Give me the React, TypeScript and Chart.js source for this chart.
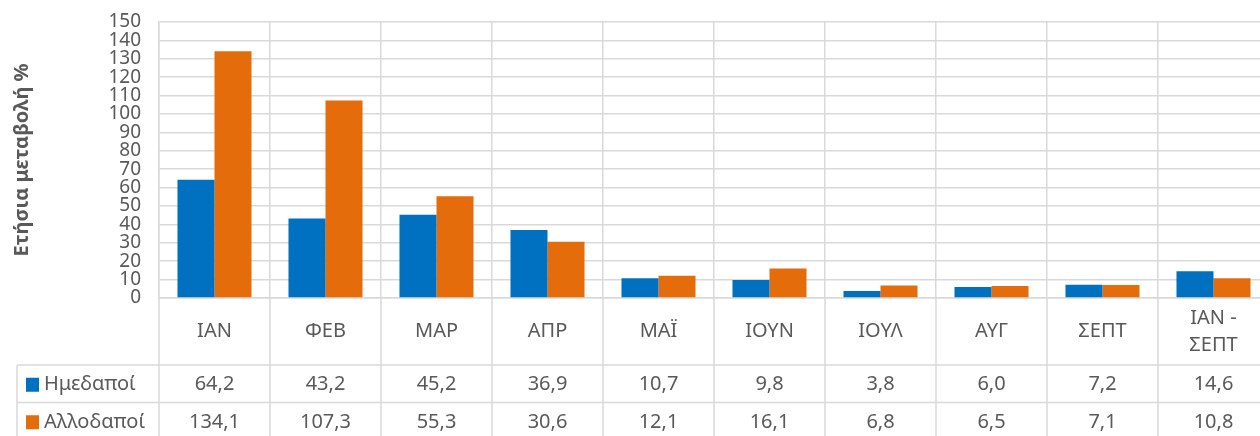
import React, { useEffect, useRef } from "react";
import { Chart, registerables } from "chart.js";

Chart.register(...registerables);

const categories: string[][] = [["ΙΑΝ"], ["ΦΕΒ"], ["ΜΑΡ"], ["ΑΠΡ"], ["ΜΑΪ"], ["ΙΟΥΝ"], ["ΙΟΥΛ"], ["ΑΥΓ"], ["ΣΕΠΤ"], ["ΙΑΝ -", "ΣΕΠΤ"]];
const seriesNames = ["Ημεδαποί", "Αλλοδαποί"];
const domestic = [64.2, 43.2, 45.2, 36.9, 10.7, 9.8, 3.8, 6.0, 7.2, 14.6];
const foreign = [134.1, 107.3, 55.3, 30.6, 12.1, 16.1, 6.8, 6.5, 7.1, 10.8];
const yTitle = "Ετήσια μεταβολή %";
const colors = ["#0070C0", "#E46C0A"];

const FONT = "'Noto Sans', sans-serif";
const TEXT = "#595959";
const GRID = "#D9D9D9";

const fmt = (v: number) => v.toFixed(1).replace(".", ",");

const tablePlugin = {
  id: "dataTable",
  afterDraw(chart: any) {
    const ctx = chart.ctx;
    const x = chart.scales.x;
    const area = chart.chartArea;
    const H = chart.height;
    const W = chart.width;
    const n = categories.length;
    const cw = x.width / n;
    const labelBottom = area.bottom + 67;
    const rowH = 37.5;
    const tableLeft = 17;
    ctx.save();
    ctx.strokeStyle = GRID;
    ctx.lineWidth = 1.5;
    for (let i = 0; i <= n; i++) {
      const px = Math.round(x.getPixelForValue(0) - cw / 2 + i * cw);
      ctx.beginPath();
      ctx.moveTo(px, area.bottom);
      ctx.lineTo(px, H);
      ctx.stroke();
    }
    ctx.beginPath();
    ctx.moveTo(tableLeft, labelBottom);
    ctx.lineTo(tableLeft, H);
    ctx.stroke();
    for (let r = 0; r < 2; r++) {
      const py = labelBottom + r * rowH;
      ctx.beginPath();
      ctx.moveTo(tableLeft, py);
      ctx.lineTo(W, py);
      ctx.stroke();
    }
    ctx.fillStyle = TEXT;
    ctx.font = `20px ${FONT}`;
    ctx.textAlign = "center";
    ctx.textBaseline = "middle";
    categories.forEach((lines, i) => {
      const cx = x.getPixelForValue(i);
      const cy = (area.bottom + labelBottom) / 2;
      const lh = 27;
      lines.forEach((t, k) => {
        ctx.fillText(t, cx, cy + (k - (lines.length - 1) / 2) * lh);
      });
    });
    const rows = [domestic, foreign];
    rows.forEach((vals, r) => {
      const cy = labelBottom + r * rowH + rowH / 2 + 1;
      vals.forEach((v, i) => {
        ctx.fillText(fmt(v), x.getPixelForValue(i), cy);
      });
      ctx.fillStyle = colors[r];
      ctx.fillRect(26, cy - 7, 13, 14);
      ctx.fillStyle = TEXT;
      ctx.textAlign = "left";
      ctx.fillText(seriesNames[r], 44, cy);
      ctx.textAlign = "center";
    });
    ctx.restore();
  },
};

export default function App() {
  const ref = useRef<HTMLCanvasElement>(null);
  useEffect(() => {
    if (!ref.current) return;
    const chart = new Chart(ref.current, {
      type: "bar",
      data: {
        labels: categories.map((c) => c.join(" ")),
        datasets: [
          { label: seriesNames[0], data: domestic, backgroundColor: colors[0] },
          { label: seriesNames[1], data: foreign, backgroundColor: colors[1] },
        ],
      },
      options: {
        responsive: false,
        animation: false,
        layout: { padding: { top: 22, right: 11, bottom: 0, left: 0 } },
        plugins: { legend: { display: false }, tooltip: { enabled: false } },
        datasets: { bar: { categoryPercentage: 0.667, barPercentage: 1.0 } },
        scales: {
          x: {
            ticks: { display: false },
            grid: { color: GRID, lineWidth: 1.5, drawTicks: false, offset: true },
            border: { color: GRID, width: 1.5 },
            afterFit: (s: any) => {
              s.height = 138;
              s.paddingLeft = 0;
              s.paddingRight = 0;
            },
          },
          y: {
            min: 0,
            max: 150,
            ticks: {
              stepSize: 10,
              autoSkip: false,
              color: TEXT,
              font: { family: FONT, size: 19 },
              padding: 18,
            },
            grid: { color: GRID, lineWidth: 1.5, drawTicks: false },
            border: { color: GRID, width: 1.5 },
            title: {
              display: true,
              text: yTitle,
              color: TEXT,
              font: { family: FONT, size: 20, weight: "bold" },
              padding: { top: 10, bottom: 0 },
            },
            afterFit: (s: any) => {
              s.width = 159;
              s.paddingTop = 0;
              s.paddingBottom = 0;
            },
          },
        },
      },
      plugins: [tablePlugin],
    });
    return () => chart.destroy();
  }, []);
  return (
    <div style={{ position: "fixed", left: 0, top: 0, width: 1260, height: 436, overflow: "hidden", background: "#fff" }}>
      <canvas ref={ref} width={1280} height={436} style={{ display: "block" }} />
    </div>
  );
}
